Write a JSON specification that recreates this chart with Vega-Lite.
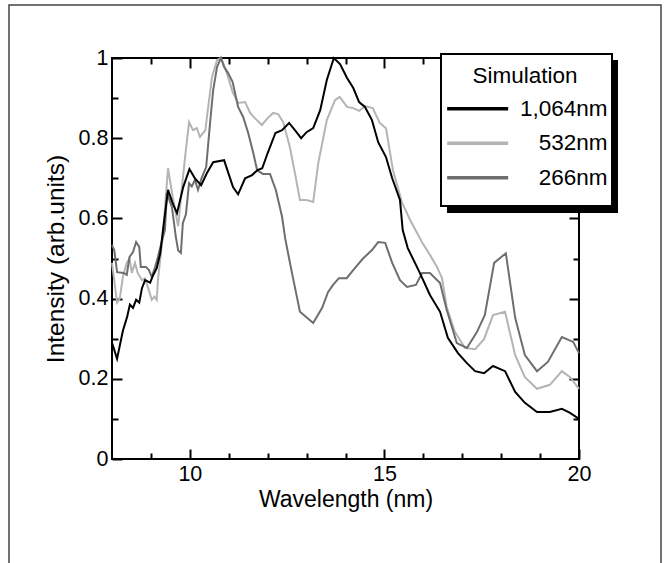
{
"$schema": "https://vega.github.io/schema/vega-lite/v6.json",
"width": 467, "height": 401,
"autosize": {"type": "none"},
"padding": {"left": 112, "top": 58, "right": 88, "bottom": 104},
"background": "white",
"config": {
  "view": {"stroke": "#000", "strokeWidth": 2},
  "font": "Liberation Sans",
  "axis": {"grid": false, "domain": false, "zindex": 0, "labelFont": "Liberation Sans", "labelFontSize": 21.5, "labelColor": "#000", "titleFont": "Liberation Sans", "titleFontSize": 23, "titleFontWeight": "normal", "titleColor": "#000", "tickColor": "#000", "tickWidth": 2, "labelOverlap": false, "labelFlush": false, "labelBound": false}
},
"data": {"values": [
{"series":"532nm","wavelength":8.0,"intensity":0.489},{"series":"532nm","wavelength":8.13,"intensity":0.39},{"series":"532nm","wavelength":8.2,"intensity":0.40},{"series":"532nm","wavelength":8.28,"intensity":0.455},{"series":"532nm","wavelength":8.38,"intensity":0.489},{"series":"532nm","wavelength":8.45,"intensity":0.50},{"series":"532nm","wavelength":8.51,"intensity":0.464},{"series":"532nm","wavelength":8.59,"intensity":0.489},{"series":"532nm","wavelength":8.66,"intensity":0.464},{"series":"532nm","wavelength":8.77,"intensity":0.446},{"series":"532nm","wavelength":8.85,"intensity":0.45},{"series":"532nm","wavelength":8.95,"intensity":0.42},{"series":"532nm","wavelength":9.02,"intensity":0.397},{"series":"532nm","wavelength":9.09,"intensity":0.405},{"series":"532nm","wavelength":9.15,"intensity":0.397},{"series":"532nm","wavelength":9.18,"intensity":0.446},{"series":"532nm","wavelength":9.3,"intensity":0.55},{"series":"532nm","wavelength":9.44,"intensity":0.725},{"series":"532nm","wavelength":9.56,"intensity":0.653},{"series":"532nm","wavelength":9.7,"intensity":0.58},{"series":"532nm","wavelength":9.8,"intensity":0.68},{"series":"532nm","wavelength":9.87,"intensity":0.746},{"series":"532nm","wavelength":9.98,"intensity":0.84},{"series":"532nm","wavelength":10.08,"intensity":0.82},{"series":"532nm","wavelength":10.18,"intensity":0.825},{"series":"532nm","wavelength":10.26,"intensity":0.803},{"series":"532nm","wavelength":10.4,"intensity":0.82},{"series":"532nm","wavelength":10.44,"intensity":0.853},{"series":"532nm","wavelength":10.57,"intensity":0.953},{"series":"532nm","wavelength":10.7,"intensity":0.995},{"series":"532nm","wavelength":10.8,"intensity":1.0},{"series":"532nm","wavelength":10.95,"intensity":0.963},{"series":"532nm","wavelength":11.1,"intensity":0.915},{"series":"532nm","wavelength":11.24,"intensity":0.888},{"series":"532nm","wavelength":11.42,"intensity":0.89},{"series":"532nm","wavelength":11.55,"intensity":0.863},{"series":"532nm","wavelength":11.67,"intensity":0.85},{"series":"532nm","wavelength":11.85,"intensity":0.833},{"series":"532nm","wavelength":12.0,"intensity":0.85},{"series":"532nm","wavelength":12.14,"intensity":0.863},{"series":"532nm","wavelength":12.27,"intensity":0.86},{"series":"532nm","wavelength":12.4,"intensity":0.84},{"series":"532nm","wavelength":12.57,"intensity":0.778},{"series":"532nm","wavelength":12.7,"intensity":0.713},{"series":"532nm","wavelength":12.83,"intensity":0.646},{"series":"532nm","wavelength":13.0,"intensity":0.646},{"series":"532nm","wavelength":13.17,"intensity":0.641},{"series":"532nm","wavelength":13.3,"intensity":0.738},{"series":"532nm","wavelength":13.52,"intensity":0.845},{"series":"532nm","wavelength":13.73,"intensity":0.895},{"series":"532nm","wavelength":13.85,"intensity":0.903},{"series":"532nm","wavelength":14.04,"intensity":0.878},{"series":"532nm","wavelength":14.2,"intensity":0.875},{"series":"532nm","wavelength":14.35,"intensity":0.868},{"series":"532nm","wavelength":14.5,"intensity":0.88},{"series":"532nm","wavelength":14.7,"intensity":0.875},{"series":"532nm","wavelength":14.88,"intensity":0.838},{"series":"532nm","wavelength":15.04,"intensity":0.825},{"series":"532nm","wavelength":15.22,"intensity":0.72},{"series":"532nm","wavelength":15.45,"intensity":0.64},{"series":"532nm","wavelength":15.66,"intensity":0.596},{"series":"532nm","wavelength":15.97,"intensity":0.54},{"series":"532nm","wavelength":16.17,"intensity":0.509},{"series":"532nm","wavelength":16.35,"intensity":0.479},{"series":"532nm","wavelength":16.48,"intensity":0.451},{"series":"532nm","wavelength":16.6,"intensity":0.379},{"series":"532nm","wavelength":16.81,"intensity":0.317},{"series":"532nm","wavelength":17.07,"intensity":0.277},{"series":"532nm","wavelength":17.33,"intensity":0.274},{"series":"532nm","wavelength":17.56,"intensity":0.299},{"series":"532nm","wavelength":17.79,"intensity":0.359},{"series":"532nm","wavelength":18.1,"intensity":0.367},{"series":"532nm","wavelength":18.36,"intensity":0.259},{"series":"532nm","wavelength":18.61,"intensity":0.204},{"series":"532nm","wavelength":18.92,"intensity":0.175},{"series":"532nm","wavelength":19.25,"intensity":0.185},{"series":"532nm","wavelength":19.56,"intensity":0.219},{"series":"532nm","wavelength":19.77,"intensity":0.204},{"series":"532nm","wavelength":20.0,"intensity":0.175},
{"series":"266nm","wavelength":8.0,"intensity":0.534},{"series":"266nm","wavelength":8.06,"intensity":0.52},{"series":"266nm","wavelength":8.13,"intensity":0.466},{"series":"266nm","wavelength":8.3,"intensity":0.464},{"series":"266nm","wavelength":8.38,"intensity":0.459},{"series":"266nm","wavelength":8.45,"intensity":0.504},{"series":"266nm","wavelength":8.54,"intensity":0.516},{"series":"266nm","wavelength":8.62,"intensity":0.541},{"series":"266nm","wavelength":8.7,"intensity":0.529},{"series":"266nm","wavelength":8.74,"intensity":0.479},{"series":"266nm","wavelength":8.87,"intensity":0.479},{"series":"266nm","wavelength":8.95,"intensity":0.471},{"series":"266nm","wavelength":9.02,"intensity":0.454},{"series":"266nm","wavelength":9.1,"intensity":0.476},{"series":"266nm","wavelength":9.18,"intensity":0.504},{"series":"266nm","wavelength":9.27,"intensity":0.539},{"series":"266nm","wavelength":9.36,"intensity":0.571},{"series":"266nm","wavelength":9.41,"intensity":0.663},{"series":"266nm","wavelength":9.54,"intensity":0.628},{"series":"266nm","wavelength":9.64,"intensity":0.554},{"series":"266nm","wavelength":9.7,"intensity":0.52},{"series":"266nm","wavelength":9.77,"intensity":0.514},{"series":"266nm","wavelength":9.82,"intensity":0.588},{"series":"266nm","wavelength":9.9,"intensity":0.61},{"series":"266nm","wavelength":9.98,"intensity":0.688},{"series":"266nm","wavelength":10.05,"intensity":0.68},{"series":"266nm","wavelength":10.13,"intensity":0.696},{"series":"266nm","wavelength":10.21,"intensity":0.671},{"series":"266nm","wavelength":10.3,"intensity":0.70},{"series":"266nm","wavelength":10.42,"intensity":0.728},{"series":"266nm","wavelength":10.52,"intensity":0.838},{"series":"266nm","wavelength":10.6,"intensity":0.92},{"series":"266nm","wavelength":10.7,"intensity":0.978},{"series":"266nm","wavelength":10.8,"intensity":1.0},{"series":"266nm","wavelength":10.88,"intensity":0.978},{"series":"266nm","wavelength":10.98,"intensity":0.963},{"series":"266nm","wavelength":11.1,"intensity":0.94},{"series":"266nm","wavelength":11.24,"intensity":0.878},{"series":"266nm","wavelength":11.37,"intensity":0.853},{"series":"266nm","wavelength":11.5,"intensity":0.813},{"series":"266nm","wavelength":11.63,"intensity":0.763},{"series":"266nm","wavelength":11.73,"intensity":0.72},{"series":"266nm","wavelength":11.88,"intensity":0.711},{"series":"266nm","wavelength":12.06,"intensity":0.711},{"series":"266nm","wavelength":12.21,"intensity":0.671},{"series":"266nm","wavelength":12.37,"intensity":0.604},{"series":"266nm","wavelength":12.45,"intensity":0.55},{"series":"266nm","wavelength":12.62,"intensity":0.466},{"series":"266nm","wavelength":12.83,"intensity":0.367},{"series":"266nm","wavelength":13.17,"intensity":0.339},{"series":"266nm","wavelength":13.4,"intensity":0.377},{"series":"266nm","wavelength":13.55,"intensity":0.416},{"series":"266nm","wavelength":13.68,"intensity":0.434},{"series":"266nm","wavelength":13.83,"intensity":0.451},{"series":"266nm","wavelength":14.03,"intensity":0.451},{"series":"266nm","wavelength":14.24,"intensity":0.476},{"series":"266nm","wavelength":14.45,"intensity":0.50},{"series":"266nm","wavelength":14.68,"intensity":0.521},{"series":"266nm","wavelength":14.84,"intensity":0.541},{"series":"266nm","wavelength":15.02,"intensity":0.539},{"series":"266nm","wavelength":15.2,"intensity":0.489},{"series":"266nm","wavelength":15.4,"intensity":0.446},{"series":"266nm","wavelength":15.58,"intensity":0.429},{"series":"266nm","wavelength":15.81,"intensity":0.434},{"series":"266nm","wavelength":15.97,"intensity":0.464},{"series":"266nm","wavelength":16.17,"intensity":0.464},{"series":"266nm","wavelength":16.43,"intensity":0.439},{"series":"266nm","wavelength":16.6,"intensity":0.372},{"series":"266nm","wavelength":16.86,"intensity":0.289},{"series":"266nm","wavelength":17.12,"intensity":0.277},{"series":"266nm","wavelength":17.38,"intensity":0.317},{"series":"266nm","wavelength":17.58,"intensity":0.359},{"series":"266nm","wavelength":17.82,"intensity":0.489},{"series":"266nm","wavelength":18.12,"intensity":0.513},{"series":"266nm","wavelength":18.36,"intensity":0.352},{"series":"266nm","wavelength":18.61,"intensity":0.259},{"series":"266nm","wavelength":18.92,"intensity":0.219},{"series":"266nm","wavelength":19.2,"intensity":0.242},{"series":"266nm","wavelength":19.56,"intensity":0.304},{"series":"266nm","wavelength":19.85,"intensity":0.292},{"series":"266nm","wavelength":20.0,"intensity":0.264},
{"series":"1,064nm","wavelength":8.0,"intensity":0.29},{"series":"1,064nm","wavelength":8.13,"intensity":0.25},{"series":"1,064nm","wavelength":8.28,"intensity":0.32},{"series":"1,064nm","wavelength":8.39,"intensity":0.355},{"series":"1,064nm","wavelength":8.46,"intensity":0.385},{"series":"1,064nm","wavelength":8.54,"intensity":0.377},{"series":"1,064nm","wavelength":8.62,"intensity":0.397},{"series":"1,064nm","wavelength":8.7,"intensity":0.39},{"series":"1,064nm","wavelength":8.77,"intensity":0.426},{"series":"1,064nm","wavelength":8.85,"intensity":0.446},{"series":"1,064nm","wavelength":8.98,"intensity":0.44},{"series":"1,064nm","wavelength":9.06,"intensity":0.459},{"series":"1,064nm","wavelength":9.15,"intensity":0.476},{"series":"1,064nm","wavelength":9.24,"intensity":0.513},{"series":"1,064nm","wavelength":9.31,"intensity":0.571},{"series":"1,064nm","wavelength":9.44,"intensity":0.671},{"series":"1,064nm","wavelength":9.55,"intensity":0.64},{"series":"1,064nm","wavelength":9.67,"intensity":0.613},{"series":"1,064nm","wavelength":9.83,"intensity":0.678},{"series":"1,064nm","wavelength":9.99,"intensity":0.723},{"series":"1,064nm","wavelength":10.13,"intensity":0.70},{"series":"1,064nm","wavelength":10.29,"intensity":0.683},{"series":"1,064nm","wavelength":10.44,"intensity":0.713},{"series":"1,064nm","wavelength":10.6,"intensity":0.74},{"series":"1,064nm","wavelength":10.88,"intensity":0.745},{"series":"1,064nm","wavelength":11.11,"intensity":0.678},{"series":"1,064nm","wavelength":11.24,"intensity":0.66},{"series":"1,064nm","wavelength":11.42,"intensity":0.70},{"series":"1,064nm","wavelength":11.6,"intensity":0.708},{"series":"1,064nm","wavelength":11.73,"intensity":0.72},{"series":"1,064nm","wavelength":11.86,"intensity":0.725},{"series":"1,064nm","wavelength":12.0,"intensity":0.763},{"series":"1,064nm","wavelength":12.2,"intensity":0.813},{"series":"1,064nm","wavelength":12.37,"intensity":0.82},{"series":"1,064nm","wavelength":12.55,"intensity":0.838},{"series":"1,064nm","wavelength":12.7,"intensity":0.82},{"series":"1,064nm","wavelength":12.86,"intensity":0.80},{"series":"1,064nm","wavelength":13.0,"intensity":0.815},{"series":"1,064nm","wavelength":13.17,"intensity":0.825},{"series":"1,064nm","wavelength":13.35,"intensity":0.87},{"series":"1,064nm","wavelength":13.52,"intensity":0.945},{"series":"1,064nm","wavelength":13.7,"intensity":1.0},{"series":"1,064nm","wavelength":13.86,"intensity":0.985},{"series":"1,064nm","wavelength":14.04,"intensity":0.95},{"series":"1,064nm","wavelength":14.2,"intensity":0.925},{"series":"1,064nm","wavelength":14.35,"intensity":0.89},{"series":"1,064nm","wavelength":14.5,"intensity":0.878},{"series":"1,064nm","wavelength":14.68,"intensity":0.845},{"series":"1,064nm","wavelength":14.84,"intensity":0.79},{"series":"1,064nm","wavelength":15.04,"intensity":0.753},{"series":"1,064nm","wavelength":15.2,"intensity":0.70},{"series":"1,064nm","wavelength":15.4,"intensity":0.646},{"series":"1,064nm","wavelength":15.47,"intensity":0.571},{"series":"1,064nm","wavelength":15.6,"intensity":0.526},{"series":"1,064nm","wavelength":15.91,"intensity":0.464},{"series":"1,064nm","wavelength":16.17,"intensity":0.409},{"series":"1,064nm","wavelength":16.43,"intensity":0.367},{"series":"1,064nm","wavelength":16.63,"intensity":0.302},{"series":"1,064nm","wavelength":16.89,"intensity":0.264},{"series":"1,064nm","wavelength":17.12,"intensity":0.239},{"series":"1,064nm","wavelength":17.33,"intensity":0.219},{"series":"1,064nm","wavelength":17.56,"intensity":0.214},{"series":"1,064nm","wavelength":17.79,"intensity":0.232},{"series":"1,064nm","wavelength":18.1,"intensity":0.219},{"series":"1,064nm","wavelength":18.36,"intensity":0.167},{"series":"1,064nm","wavelength":18.61,"intensity":0.14},{"series":"1,064nm","wavelength":18.92,"intensity":0.117},{"series":"1,064nm","wavelength":19.25,"intensity":0.117},{"series":"1,064nm","wavelength":19.56,"intensity":0.125},{"series":"1,064nm","wavelength":19.77,"intensity":0.115},{"series":"1,064nm","wavelength":20.0,"intensity":0.10}
]},
"layer": [
  {
    "data": {"values": [{}]},
    "mark": {"type": "rect", "fill": null, "fillOpacity": 0, "stroke": "#444", "strokeWidth": 1.5, "clip": false},
    "encoding": {
      "x": {"datum": 5.353, "type": "quantitative", "scale": {"domain": [8, 20], "nice": false}, "axis": null},
      "x2": {"datum": 22.107},
      "y": {"datum": 1.132, "type": "quantitative", "scale": {"domain": [0, 1], "nice": false}, "axis": null},
      "y2": {"datum": -0.36}
    }
  },
  {
    "mark": {"type": "line", "strokeWidth": 2},
    "encoding": {
      "x": {"field": "wavelength", "type": "quantitative", "scale": {"domain": [8, 20], "nice": false},
        "axis": {"orient": "bottom", "values": [9, 10, 11, 12, 13, 14, 15, 16, 17, 18, 19, 20],
          "tickSize": {"condition": {"test": "datum.value % 5 === 0", "value": -10}, "value": -6},
          "labelExpr": "datum.value % 5 === 0 ? datum.label : ''",
          "labelPadding": 14, "title": "Wavelength (nm)", "titlePadding": 0}},
      "y": {"field": "intensity", "type": "quantitative", "scale": {"domain": [0, 1], "nice": false},
        "axis": {"orient": "left", "values": [0, 0.1, 0.2, 0.3, 0.4, 0.5, 0.6, 0.7, 0.8, 0.9, 1], "format": "~g",
          "tickSize": {"condition": {"test": "round(datum.value * 10) % 2 === 0", "value": -10}, "value": -6},
          "labelExpr": "round(datum.value * 10) % 2 === 0 ? datum.label : ''",
          "labelPadding": 14, "title": "Intensity (arb.units)", "titleFontSize": 24.5, "titlePadding": 10}},
      "color": {"field": "series", "type": "nominal",
        "scale": {"domain": ["1,064nm", "532nm", "266nm"], "range": ["#000000", "#b4b4b4", "#6e6e6e"]},
        "legend": {"orient": "none", "legendX": 330, "legendY": 7, "title": "Simulation",
          "titleFont": "Liberation Sans", "titleFontSize": 22.5, "titleFontWeight": "normal", "titleColor": "#000",
          "titleAnchor": "middle", "titlePadding": 10,
          "labelFont": "Liberation Sans", "labelFontSize": 22.5, "labelColor": "#000", "labelAlign": "right", "labelOffset": 143, "labelLimit": 400,
          "symbolType": "M-1,0H9", "symbolSize": 149, "symbolStrokeWidth": 3.5,
          "rowPadding": 11.5, "padding": 0}}
    }
  },
  {
    "mark": {"type": "point", "opacity": 0},
    "encoding": {
      "x": {"field": "wavelength", "type": "quantitative", "scale": {"domain": [8, 20], "nice": false},
        "axis": {"orient": "top", "labels": false, "title": null, "values": [9, 10, 11, 12, 13, 14, 15, 16, 17, 18, 19],
          "tickSize": {"condition": {"test": "datum.value % 5 === 0", "value": -10}, "value": -6}}},
      "y": {"field": "intensity", "type": "quantitative", "scale": {"domain": [0, 1], "nice": false},
        "axis": {"orient": "right", "labels": false, "title": null, "values": [0.1, 0.2, 0.3, 0.4, 0.5, 0.6, 0.7, 0.8, 0.9],
          "tickSize": {"condition": {"test": "round(datum.value * 10) % 2 === 0", "value": -10}, "value": -6}}}
    }
  },
  {
    "data": {"values": [{}]},
    "mark": {"type": "rect", "fill": "#000", "clip": false},
    "encoding": {
      "x": {"datum": 16.608, "type": "quantitative", "scale": {"domain": [8, 20], "nice": false}, "axis": null},
      "x2": {"datum": 21.002},
      "y": {"datum": 0.995, "type": "quantitative", "scale": {"domain": [0, 1], "nice": false}, "axis": null},
      "y2": {"datum": 0.6135}
    }
  },
  {
    "data": {"values": [{}]},
    "mark": {"type": "rect", "fill": "#fff", "stroke": "#000", "strokeWidth": 2, "clip": false},
    "encoding": {
      "x": {"datum": 16.454, "type": "quantitative", "scale": {"domain": [8, 20], "nice": false}, "axis": null},
      "x2": {"datum": 20.848},
      "y": {"datum": 1.01, "type": "quantitative", "scale": {"domain": [0, 1], "nice": false}, "axis": null},
      "y2": {"datum": 0.631}
    }
  }
],
"resolve": {"axis": {"x": "independent", "y": "independent"}}
}
